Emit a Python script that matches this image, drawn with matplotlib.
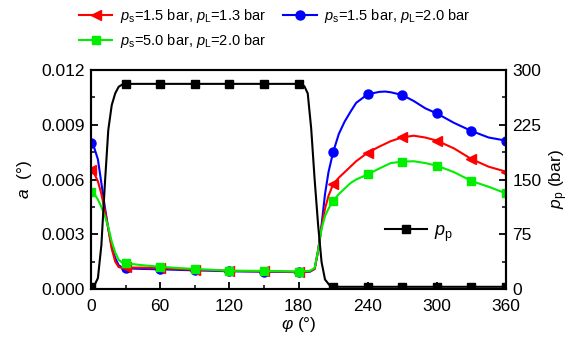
import matplotlib
matplotlib.use("Agg")
import matplotlib.pyplot as plt
import numpy as np
from matplotlib.ticker import MultipleLocator, FormatStrFormatter

plt.rcParams['font.family'] = ['Liberation Sans', 'DejaVu Sans']
plt.rcParams['mathtext.fontset'] = 'custom'
plt.rcParams['mathtext.rm'] = 'Liberation Sans'
plt.rcParams['mathtext.it'] = 'Liberation Sans:italic'
plt.rcParams['mathtext.bf'] = 'Liberation Sans:bold'

# ---- data ----
phi = [0, 3, 6, 9, 12, 15, 18, 21, 24, 27, 30, 45, 60, 75, 90, 105, 120, 135, 150, 165, 180,
       190, 194, 197, 200, 203, 206, 210, 215, 220, 225, 230, 240, 250, 255, 260, 270,
       280, 290, 300, 315, 330, 345, 360]

a_blue = [0.0080, 0.0077, 0.0071, 0.0058, 0.0045, 0.0033, 0.0023, 0.0017, 0.0013, 0.00118, 0.00113,
          0.00110, 0.00108, 0.00105, 0.00102, 0.00100, 0.00097, 0.00096, 0.00095, 0.00094, 0.00092,
          0.00095, 0.0011, 0.0021, 0.0035, 0.0052, 0.0064, 0.00749, 0.0085, 0.00917, 0.0097, 0.0102,
          0.01067, 0.01080, 0.01082, 0.01078, 0.01063, 0.0103, 0.0099, 0.00962, 0.0091, 0.00866,
          0.0083, 0.00813]

a_red = [0.0065, 0.0063, 0.0059, 0.0052, 0.0043, 0.0033, 0.0022, 0.0015, 0.0012, 0.00115, 0.00118,
         0.00117, 0.00115, 0.00110, 0.00105, 0.00103, 0.00100, 0.00098, 0.00097, 0.00096, 0.00094,
         0.00097, 0.0011, 0.0021, 0.0034, 0.0044, 0.0051, 0.00574, 0.0061, 0.0064, 0.0067, 0.0070,
         0.00747, 0.0078, 0.00795, 0.0081, 0.00831, 0.0084, 0.0083, 0.00813, 0.0077, 0.00712,
         0.0067, 0.00643]

a_green = [0.0053, 0.0052, 0.0049, 0.0045, 0.0040, 0.0034, 0.0026, 0.0020, 0.0016, 0.00145, 0.00141,
           0.0013, 0.00122, 0.00115, 0.00110, 0.00105, 0.00100, 0.00100, 0.00099, 0.00097, 0.00095,
           0.00100, 0.00115, 0.0021, 0.0033, 0.0040, 0.0044, 0.00482, 0.0052, 0.0055, 0.0058, 0.0060,
           0.00628, 0.0066, 0.00675, 0.0069, 0.00698, 0.0070, 0.0069, 0.00676, 0.0064, 0.00592,
           0.0056, 0.00524]

phi_p = [0, 3, 6, 9, 12, 15, 18, 21, 24, 27, 30, 60, 90, 120, 150, 180, 185, 188, 191, 194, 197,
         200, 203, 207, 210, 240, 270, 300, 330, 360]
p_p = [3, 5, 15, 60, 143, 218, 252, 268, 277, 280, 281, 281, 281, 281, 281, 281, 278, 268, 220, 150, 88,
       37, 13, 5, 3, 3, 3, 3, 3, 3]

labels = [r'$\it{p}_{\rm s}$=1.5 bar, $\it{p}_{\rm L}$=1.3 bar',
          r'$\it{p}_{\rm s}$=5.0 bar, $\it{p}_{\rm L}$=2.0 bar',
          r'$\it{p}_{\rm s}$=1.5 bar, $\it{p}_{\rm L}$=2.0 bar']
pp_label = r'$\it{p}_{\rm p}$'

# ---- figure ----
fig = plt.figure(figsize=(5.78, 3.38), dpi=100)
ax = fig.add_axes([91/578, 49/338, 415/578, 219/338])
ax2 = ax.twinx()

def marks(x):
    return [v % 30 == 0 for v in x]

lw = 1.5
ms = 6.5
ln_b, = ax.plot(phi, a_blue, color='#0000ff', lw=lw, marker='o', ms=ms, markevery=marks(phi))
ln_r, = ax.plot(phi, a_red, color='#ff0000', lw=lw, marker='<', ms=ms + 1, markevery=marks(phi))
ln_g, = ax.plot(phi, a_green, color='#00ee00', lw=lw, marker='s', ms=ms - 0.5, markevery=marks(phi))
ln_p, = ax2.plot(phi_p, p_p, color='black', lw=lw, marker='s', ms=ms - 0.5, markevery=marks(phi_p))

ax.set_xlim(0, 360)
ax.set_ylim(0, 0.012)
ax2.set_ylim(0, 300)

ax.xaxis.set_major_locator(MultipleLocator(60))
ax.xaxis.set_minor_locator(MultipleLocator(30))
ax.yaxis.set_major_locator(MultipleLocator(0.003))
ax.yaxis.set_minor_locator(MultipleLocator(0.0015))
ax.yaxis.set_major_formatter(FormatStrFormatter('%.3f'))
ax2.yaxis.set_major_locator(MultipleLocator(75))
ax2.yaxis.set_minor_locator(MultipleLocator(37.5))

fs = 12.5
for a in (ax, ax2):
    a.tick_params(which='major', direction='in', length=5, width=1.3, labelsize=fs, pad=4.5)
    a.tick_params(which='minor', direction='in', length=3, width=1.1)
    for s in a.spines.values():
        s.set_linewidth(1.5)
ax.tick_params(axis='x', which='major', pad=7)
ax.tick_params(which='both', top=False, right=False)
ax2.tick_params(which='both', left=False, top=False)

ax.set_xlabel(r'$\it{\varphi}$ (°)', fontsize=fs, labelpad=1)
ax.set_ylabel(r'$\it{a}$  (°)', fontsize=fs, labelpad=5)
ax2.set_ylabel(r'$\it{p}_{\rm p}$ (bar)', fontsize=fs, labelpad=4)

fig.legend([ln_r, ln_g, ln_b], labels, loc='upper left', bbox_to_anchor=(70/578, 1.005),
           ncol=2, frameon=False, fontsize=10.5, handlelength=2.3, columnspacing=1.2,
           labelspacing=0.5, handletextpad=0.5, borderaxespad=0.2)
ax2.legend([ln_p], [pp_label], loc='center left', bbox_to_anchor=(0.67, 0.255),
           frameon=False, fontsize=13, handlelength=2.3, handletextpad=0.4)

fig.savefig('out.png', dpi=100)
